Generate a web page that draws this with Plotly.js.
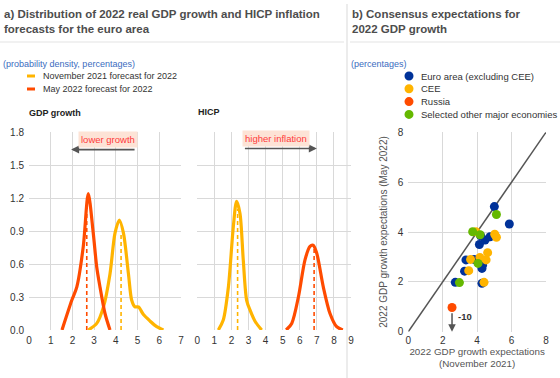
<!DOCTYPE html>
<html><head><meta charset="utf-8">
<script src="https://cdn.plot.ly/plotly-3.0.1.min.js"></script>
<style>html,body{margin:0;padding:0;background:#fff}#chart{width:560px;height:378px}</style>
</head><body><div id="chart"></div>
<script>
// ---- Panel a: GDP growth densities ----
const gdpNovX = [2.73,3.12,3.43,3.73,3.96,4.16,4.35,4.58,4.73,4.88,5.04,5.27,5.58,5.88,6.19];
const gdpNovY = [0,0.06,0.21,0.51,0.88,1.0,0.88,0.51,0.27,0.21,0.21,0.14,0.08,0.03,0];
const gdpMayX = [1.52,1.97,2.2,2.5,2.73,2.96,3.12,3.27,3.5,3.73];
const gdpMayY = [0,0.27,0.39,0.76,1.24,0.88,0.57,0.39,0.15,0];
const gdpNovMedian = 4.24, gdpNovMedianH = 0.88;
const gdpMayMedian = 2.66, gdpMayMedianH = 1.08;
// ---- Panel a: HICP densities ----
const hicpNovX = [1.23,1.52,1.82,2.11,2.3,2.5,2.69,2.89,3.09,3.38,3.77];
const hicpNovY = [0,0.09,0.39,0.94,1.17,1.06,0.64,0.27,0.18,0.08,0];
const hicpMayX = [5.2,5.53,5.92,6.31,6.6,6.78,6.99,7.38,7.77,8.16,8.52];
const hicpMayY = [0,0.06,0.3,0.64,0.76,0.77,0.7,0.39,0.15,0.03,0];
const hicpNovMedian = 2.36, hicpNovMedianH = 1.1;
const hicpMayMedian = 6.84, hicpMayMedianH = 0.74;
// ---- Panel b: consensus expectations (Nov 2021 vs May 2022) ----
const euroX = [5.0,5.87,4.13,4.46,4.75,4.2,3.35,3.82,3.27,4.28,4.32,2.73,4.28];
const euroY = [5.02,4.32,3.5,3.68,3.81,3.85,2.88,2.9,2.43,2.54,2.68,1.98,1.94];
const ceeX = [3.93,5.02,5.12,4.61,4.16,4.52,3.62,3.51,4.4];
const ceeY = [4.01,3.91,3.79,3.17,2.98,2.88,2.9,2.45,1.98];
const russiaX = [2.54];
const russiaY = [0.97];
const russiaActual = -10;
const otherX = [3.74,4.17,5.12,4.05,2.97];
const otherY = [4.01,3.89,4.7,2.74,1.97];
const diagX = [0,8];
const diagY = [0,8];
// legend labels
const legendA = ['November 2021 forecast for 2022','May 2022 forecast for 2022'];
const legendB = ['Euro area (excluding CEE)','CEE','Russia','Selected other major economies'];

const YEL = '#ffb400', ORA = '#ff4b00', BLUE = '#003299', GRN = '#65b800';
const FONT = 'Liberation Sans, Arial, sans-serif';

function curve(x,y,c,ax,name){
  return {x:x,y:y,xaxis:ax[0],yaxis:ax[1],type:'scatter',mode:'lines',
    line:{color:c,width:3.2,shape:'spline',smoothing:0.8},name:name,showlegend:false,hoverinfo:'skip'};
}
function median(m,h,c,ax){
  return {x:[m,m],y:[0,h],xaxis:ax[0],yaxis:ax[1],type:'scatter',mode:'lines',
    line:{color:c,width:1.6,dash:'4px,3px'},showlegend:false,hoverinfo:'skip'};
}
const A1=['x','y'], A2=['x2','y2'];
const traces = [
  median(gdpNovMedian,gdpNovMedianH,YEL,A1),
  median(gdpMayMedian,gdpMayMedianH,ORA,A1),
  curve(gdpNovX,gdpNovY,YEL,A1,legendA[0]),
  curve(gdpMayX,gdpMayY,ORA,A1,legendA[1]),
  median(hicpNovMedian,hicpNovMedianH,YEL,A2),
  median(hicpMayMedian,hicpMayMedianH,ORA,A2),
  curve(hicpNovX,hicpNovY,YEL,A2,legendA[0]),
  curve(hicpMayX,hicpMayY,ORA,A2,legendA[1]),
  {x:diagX,y:diagY,xaxis:'x3',yaxis:'y3',mode:'lines',line:{color:'#555',width:1.5},showlegend:false,hoverinfo:'skip'},
  {x:euroX,y:euroY,xaxis:'x3',yaxis:'y3',mode:'markers',marker:{color:BLUE,size:9},name:legendB[0],showlegend:false},
  {x:ceeX,y:ceeY,xaxis:'x3',yaxis:'y3',mode:'markers',marker:{color:YEL,size:9},name:legendB[1],showlegend:false},
  {x:russiaX,y:russiaY,xaxis:'x3',yaxis:'y3',mode:'markers',marker:{color:ORA,size:9},name:legendB[2],showlegend:false},
  {x:otherX,y:otherY,xaxis:'x3',yaxis:'y3',mode:'markers',marker:{color:GRN,size:9},name:legendB[3],showlegend:false}
];

const grid = '#d9d9d9', tickc = '#333';
const axBase = {showgrid:true,gridcolor:grid,gridwidth:1,zeroline:false,showline:false,ticks:'',
  tickfont:{family:FONT,size:10,color:tickc},fixedrange:true};
const W=560,H=378;
const px=v=>v/W, py=v=>1-v/H;

const shapes = [
  {type:'line',xref:'paper',yref:'paper',x0:px(347),x1:px(347),y0:0,y1:py(4),line:{color:'#d9d9d9',width:1}},
  {type:'line',xref:'paper',yref:'paper',x0:0,x1:px(344),y0:py(42),y1:py(42),line:{color:'#e3e3e3',width:1}},
  {type:'line',xref:'paper',yref:'paper',x0:px(350),x1:1,y0:py(42),y1:py(42),line:{color:'#e3e3e3',width:1}}
];
const annotations = [
  {xref:'paper',yref:'paper',x:px(2),y:py(6),xanchor:'left',yanchor:'top',align:'left',showarrow:false,
   text:'<b>a) Distribution of 2022 real GDP growth and HICP inflation<br>forecasts for the euro area</b>',
   font:{family:FONT,size:11.5,color:'#4d4d4d'}},
  {xref:'paper',yref:'paper',x:px(350),y:py(6),xanchor:'left',yanchor:'top',align:'left',showarrow:false,
   text:'<b>b) Consensus expectations for<br>2022 GDP growth</b>',
   font:{family:FONT,size:11.5,color:'#4d4d4d'}},
  {xref:'paper',yref:'paper',x:px(1),y:py(64),xanchor:'left',yanchor:'middle',showarrow:false,
   text:'(probability density, percentages)',font:{family:FONT,size:9,color:'#3b6cc0'}},
  {xref:'paper',yref:'paper',x:px(349),y:py(64),xanchor:'left',yanchor:'middle',showarrow:false,
   text:'(percentages)',font:{family:FONT,size:9,color:'#3b6cc0'}},
  {xref:'paper',yref:'paper',x:px(27),y:py(113),xanchor:'left',yanchor:'middle',showarrow:false,
   text:'<b>GDP growth</b>',font:{family:FONT,size:9,color:'#222'}},
  {xref:'paper',yref:'paper',x:px(196),y:py(112),xanchor:'left',yanchor:'middle',showarrow:false,
   text:'<b>HICP</b>',font:{family:FONT,size:9,color:'#222'}},
  // arrows
  {xref:'x',yref:'y',axref:'x',ayref:'y',x:1.94,y:1.64,ax:4.93,ay:1.64,text:'',showarrow:true,
   arrowhead:2,arrowsize:1,arrowwidth:1.6,arrowcolor:'#555'},
  {xref:'x',yref:'y',x:3.62,y:1.655,yanchor:'bottom',showarrow:false,text:'lower growth',
   bgcolor:'#fde3d6',font:{family:FONT,size:9.5,color:'#ff3b3b'},borderpad:2},
  {xref:'x2',yref:'y2',axref:'x2',ayref:'y2',x:7.0,y:1.65,ax:2.7,ay:1.65,text:'',showarrow:true,
   arrowhead:2,arrowsize:1,arrowwidth:1.6,arrowcolor:'#555'},
  {xref:'x2',yref:'y2',x:4.6,y:1.665,yanchor:'bottom',showarrow:false,text:'higher inflation',
   bgcolor:'#fde3d6',font:{family:FONT,size:9.5,color:'#ff3b3b'},borderpad:2},
  {xref:'x3',yref:'y3',axref:'x3',ayref:'y3',x:russiaX[0],y:0,ax:russiaX[0],ay:0.8,text:'',showarrow:true,
   arrowhead:2,arrowsize:1,arrowwidth:1.5,arrowcolor:'#555'},
  {xref:'x3',yref:'y3',x:russiaX[0]+0.25,y:0.6,xanchor:'left',showarrow:false,text:'<b>'+russiaActual+'</b>',
   font:{family:FONT,size:9.5,color:'#333'}}
];
// legend a (manual, compact like the reference)
[YEL,ORA].forEach((c,i)=>{
  const yy = 76 + i*13;
  shapes.push({type:'line',xref:'paper',yref:'paper',x0:px(27),x1:px(35),y0:py(yy),y1:py(yy),line:{color:c,width:3}});
  annotations.push({xref:'paper',yref:'paper',x:px(41),y:py(yy),xanchor:'left',yanchor:'middle',showarrow:false,
    text:legendA[i],font:{family:FONT,size:9,color:'#333'}});
});
// legend b
[BLUE,YEL,ORA,GRN].forEach((c,i)=>{
  const yy = 76 + i*12.8;
  shapes.push({type:'circle',xref:'paper',yref:'paper',x0:px(404.5),x1:px(413.5),y0:py(yy+4.5),y1:py(yy-4.5),
    fillcolor:c,line:{color:c,width:0}});
  annotations.push({xref:'paper',yref:'paper',x:px(419),y:py(yy),xanchor:'left',yanchor:'middle',showarrow:false,
    text:legendB[i],font:{family:FONT,size:9.5,color:'#333'}});
});

const layout = {
  width:W,height:H,margin:{l:0,r:0,t:0,b:0},paper_bgcolor:'#fff',plot_bgcolor:'#fff',
  font:{family:FONT,size:10,color:'#333'},showlegend:false,
  xaxis:Object.assign({},axBase,{domain:[px(29),px(181)],range:[0,7],dtick:1,anchor:'y',ticklabelstandoff:3}),
  yaxis:Object.assign({},axBase,{domain:[py(330),py(132)],range:[0,1.8],dtick:0.3,tickformat:'.1f',anchor:'x',ticklabelstandoff:4}),
  xaxis2:Object.assign({},axBase,{domain:[px(197.3),px(351)],range:[0,9],dtick:1,anchor:'y2',ticklabelstandoff:3}),
  yaxis2:Object.assign({},axBase,{domain:[py(330),py(132)],range:[0,1.8],dtick:0.3,showticklabels:false,anchor:'x2'}),
  xaxis3:Object.assign({},axBase,{domain:[px(408.3),px(546)],range:[0,8],dtick:2,anchor:'y3',ticklabelstandoff:1,
    title:{text:'2022 GDP growth expectations<br>(November 2021)',font:{family:FONT,size:9.8,color:'#555'},standoff:2}}),
  yaxis3:Object.assign({},axBase,{domain:[py(331.7),py(132.3)],range:[0,8],dtick:2,anchor:'x3',ticklabelstandoff:4,
    title:{text:'2022 GDP growth expectations (May 2022)',font:{family:FONT,size:10,color:'#555'},standoff:8}}),
  shapes:shapes,
  annotations:annotations
};
Plotly.newPlot('chart',traces,layout,{staticPlot:true,displayModeBar:false});
</script></body></html>
